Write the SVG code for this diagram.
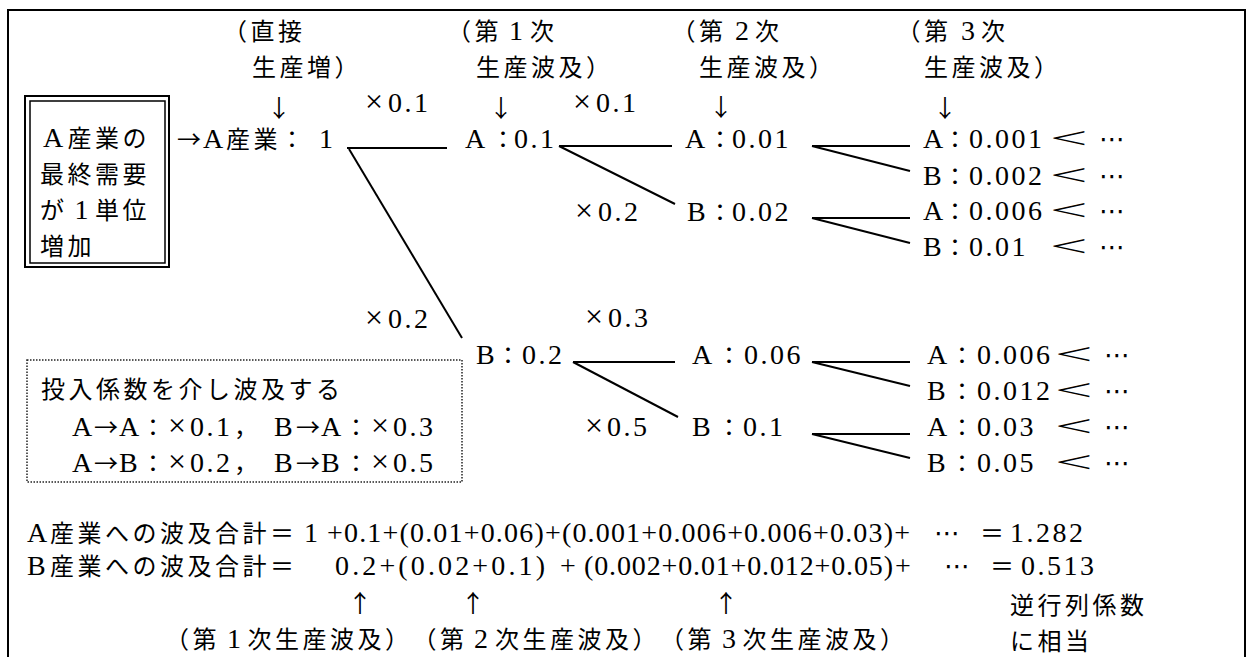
<svg xmlns="http://www.w3.org/2000/svg" width="1247" height="657" viewBox="0 0 1247 657">
  <style>
    text { font-family: "Liberation Serif", "Noto Sans CJK JP", serif; font-size: 28px; fill: #000; }
    .c { font-family: "Noto Sans CJK JP", "Liberation Serif", sans-serif; font-size: 24px; letter-spacing: 3.5px; }
    .k { letter-spacing: 0; }
    .n { letter-spacing: 2.5px; }
    .x { font-size: 32px; }
    .ar { font-family: "Noto Sans CJK JP", sans-serif; font-size: 24px; text-anchor: middle; }
    .dt { font-family: "DejaVu Sans", "Noto Sans CJK JP", sans-serif; font-size: 26px; }
    .lt { font-size: 29px; }
    .edge { stroke: #000; stroke-width: 2; fill: none; }
    .frame { stroke: #000; stroke-width: 2; fill: none; }
    .dotbox { stroke: #222; stroke-width: 1.5; stroke-dasharray: 1.5 1.5; fill: none; }
  </style>

  <!-- outer frame, open at the bottom -->
  <path class="frame" d="M8,657 V10 H1245 V657"/>

  <!-- final demand box (double border) -->
  <g id="demand">
    <rect x="25" y="96" width="144" height="171" fill="none" stroke="#000" stroke-width="2"/>
    <rect x="30" y="101" width="135" height="162" fill="none" stroke="#000" stroke-width="1.5"/>
    <text y="147"><tspan x="43">A</tspan><tspan class="c" x="67.5">産業の</tspan></text>
    <text class="c" x="40" y="183">最終需要</text>
    <text y="219"><tspan class="c" x="40">が</tspan><tspan x="74.5">1</tspan><tspan class="c" x="95">単位</tspan></text>
    <text class="c" x="40" y="255">増加</text>
  </g>

  <!-- column headers -->
  <g id="hdr-direct">
    <text class="c" x="223" y="40">（直接</text>
    <text class="c" x="252" y="76">生産増）</text>
    <text class="ar" x="279" y="117">↓</text>
  </g>
  <g id="hdr-1st">
    <text y="40"><tspan class="c" x="447">（第</tspan><tspan x="509">1</tspan><tspan class="c" x="530">次</tspan></text>
    <text class="c" x="476" y="76">生産波及）</text>
    <text class="ar" x="501" y="117">↓</text>
  </g>
  <g id="hdr-2nd">
    <text y="40"><tspan class="c" x="671.5">（第</tspan><tspan x="735">2</tspan><tspan class="c" x="755">次</tspan></text>
    <text class="c" x="699" y="76">生産波及）</text>
    <text class="ar" x="721" y="116">↓</text>
  </g>
  <g id="hdr-3rd">
    <text y="40"><tspan class="c" x="896.5">（第</tspan><tspan x="961">3</tspan><tspan class="c" x="981">次</tspan></text>
    <text class="c" x="924" y="76">生産波及）</text>
    <text class="ar" x="945" y="117">↓</text>
  </g>

  <!-- coefficients on the branches -->
  <g id="coef-aa-1"><text y="112"><tspan class="x" x="365">×</tspan><tspan class="n" x="388">0.1</tspan></text></g>
  <g id="coef-aa-2"><text y="112"><tspan class="x" x="573">×</tspan><tspan class="n" x="596">0.1</tspan></text></g>
  <g id="coef-ab-2"><text y="221"><tspan class="x" x="575">×</tspan><tspan class="n" x="598">0.2</tspan></text></g>
  <g id="coef-ab-1"><text y="328"><tspan class="x" x="365">×</tspan><tspan class="n" x="388">0.2</tspan></text></g>
  <g id="coef-ba-2"><text y="327"><tspan class="x" x="585">×</tspan><tspan class="n" x="608">0.3</tspan></text></g>
  <g id="coef-bb-2"><text y="436"><tspan class="x" x="585">×</tspan><tspan class="n" x="607">0.5</tspan></text></g>

  <!-- direct and first/second round nodes -->
  <g id="node-a0"><text y="148"><tspan class="c k" x="177">→</tspan><tspan x="203">A</tspan><tspan class="c" x="226">産業</tspan><tspan class="c k" x="280">：</tspan><tspan x="319">1</tspan></text></g>
  <g id="node-a1"><text y="148"><tspan x="465">A</tspan><tspan class="c k" x="491">：</tspan><tspan class="n" x="514">0.1</tspan></text></g>
  <g id="node-b1"><text y="364"><tspan x="476">B</tspan><tspan class="c k" x="496">：</tspan><tspan class="n" x="522">0.2</tspan></text></g>
  <g id="node-a2-a"><text y="148"><tspan x="685">A</tspan><tspan class="c k" x="708">：</tspan><tspan class="n" x="732">0.01</tspan></text></g>
  <g id="node-a2-b"><text y="221"><tspan x="687">B</tspan><tspan class="c k" x="708">：</tspan><tspan class="n" x="732">0.02</tspan></text></g>
  <g id="node-b2-a"><text y="364"><tspan x="692">A</tspan><tspan class="c k" x="717">：</tspan><tspan class="n" x="744">0.06</tspan></text></g>
  <g id="node-b2-b"><text y="436"><tspan x="692">B</tspan><tspan class="c k" x="717">：</tspan><tspan class="n" x="743">0.1</tspan></text></g>

  <!-- third round nodes -->
  <g id="node-3-1">
    <text y="148"><tspan x="923">A</tspan><tspan class="c k" x="943">：</tspan><tspan class="n" x="969">0.001</tspan><tspan class="dt" x="1099">⋯</tspan></text>
    <text class="lt" transform="translate(1050,148) scale(2.3,1)">&lt;</text>
  </g>
  <g id="node-3-2">
    <text y="185"><tspan x="923">B</tspan><tspan class="c k" x="943">：</tspan><tspan class="n" x="969">0.002</tspan><tspan class="dt" x="1099">⋯</tspan></text>
    <text class="lt" transform="translate(1050,185) scale(2.3,1)">&lt;</text>
  </g>
  <g id="node-3-3">
    <text y="220"><tspan x="923">A</tspan><tspan class="c k" x="943">：</tspan><tspan class="n" x="969">0.006</tspan><tspan class="dt" x="1099">⋯</tspan></text>
    <text class="lt" transform="translate(1050,220) scale(2.3,1)">&lt;</text>
  </g>
  <g id="node-3-4">
    <text y="256"><tspan x="923">B</tspan><tspan class="c k" x="943">：</tspan><tspan class="n" x="969">0.01</tspan><tspan class="dt" x="1099">⋯</tspan></text>
    <text class="lt" transform="translate(1050,256) scale(2.3,1)">&lt;</text>
  </g>
  <g id="node-3-5">
    <text y="364"><tspan x="927">A</tspan><tspan class="c k" x="950">：</tspan><tspan class="n" x="977">0.006</tspan><tspan class="dt" x="1104">⋯</tspan></text>
    <text class="lt" transform="translate(1055,364) scale(2.3,1)">&lt;</text>
  </g>
  <g id="node-3-6">
    <text y="400"><tspan x="927">B</tspan><tspan class="c k" x="950">：</tspan><tspan class="n" x="977">0.012</tspan><tspan class="dt" x="1104">⋯</tspan></text>
    <text class="lt" transform="translate(1055,400) scale(2.3,1)">&lt;</text>
  </g>
  <g id="node-3-7">
    <text y="436"><tspan x="927">A</tspan><tspan class="c k" x="950">：</tspan><tspan class="n" x="977">0.03</tspan><tspan class="dt" x="1104">⋯</tspan></text>
    <text class="lt" transform="translate(1055,436) scale(2.3,1)">&lt;</text>
  </g>
  <g id="node-3-8">
    <text y="472"><tspan x="927">B</tspan><tspan class="c k" x="950">：</tspan><tspan class="n" x="977">0.05</tspan><tspan class="dt" x="1104">⋯</tspan></text>
    <text class="lt" transform="translate(1055,472) scale(2.3,1)">&lt;</text>
  </g>

  <!-- branches -->
  <g id="connectors" class="edge">
    <line x1="347" y1="148" x2="447" y2="148"/>
    <line x1="349" y1="149" x2="462" y2="338"/>
    <line x1="559" y1="146" x2="672" y2="146"/>
    <line x1="559" y1="146" x2="675" y2="204"/>
    <line x1="812" y1="146" x2="910" y2="146"/>
    <line x1="812" y1="146" x2="910" y2="171"/>
    <line x1="812" y1="218" x2="910" y2="218"/>
    <line x1="812" y1="218" x2="910" y2="243"/>
    <line x1="573" y1="362" x2="675" y2="362"/>
    <line x1="573" y1="362" x2="678" y2="417"/>
    <line x1="812" y1="362" x2="910" y2="362"/>
    <line x1="812" y1="362" x2="910" y2="386"/>
    <line x1="812" y1="434" x2="910" y2="434"/>
    <line x1="812" y1="434" x2="910" y2="458"/>
  </g>

  <!-- input coefficient legend -->
  <g id="legend">
    <rect class="dotbox" x="27" y="360" width="435" height="122"/>
    <text class="c" x="41" y="398">投入係数を介し波及する</text>
    <text y="436"><tspan x="72">A</tspan><tspan class="c k" x="94">→</tspan><tspan x="119">A</tspan><tspan class="c k" x="141">：</tspan><tspan class="x" x="168">×</tspan><tspan class="n" x="190">0.1</tspan><tspan class="c k" x="234">，</tspan><tspan x="274">B</tspan><tspan class="c k" x="296">→</tspan><tspan x="321">A</tspan><tspan class="c k" x="344">：</tspan><tspan class="x" x="371">×</tspan><tspan class="n" x="393">0.3</tspan></text>
    <text y="472"><tspan x="72">A</tspan><tspan class="c k" x="94">→</tspan><tspan x="119">B</tspan><tspan class="c k" x="141">：</tspan><tspan class="x" x="168">×</tspan><tspan class="n" x="190">0.2</tspan><tspan class="c k" x="234">，</tspan><tspan x="274">B</tspan><tspan class="c k" x="296">→</tspan><tspan x="321">B</tspan><tspan class="c k" x="344">：</tspan><tspan class="x" x="371">×</tspan><tspan class="n" x="393">0.5</tspan></text>
  </g>

  <!-- totals -->
  <g id="total-a">
    <text y="542"><tspan x="27">A</tspan><tspan class="c" x="50">産業への波及合計＝</tspan><tspan x="304">1</tspan><tspan x="327" textLength="583">+0.1+(0.01+0.06)+(0.001+0.006+0.006+0.03)+</tspan><tspan class="dt" x="934">⋯</tspan><tspan class="c k" x="980">＝</tspan><tspan class="n" x="1010">1.282</tspan></text>
  </g>
  <g id="total-b">
    <text y="575"><tspan x="27">B</tspan><tspan class="c" x="50">産業への波及合計＝</tspan><tspan x="335" textLength="210">0.2+(0.02+0.1)</tspan><tspan x="560">+</tspan><tspan x="584" textLength="309">(0.002+0.01+0.012+0.05)</tspan><tspan x="895">+</tspan><tspan class="dt" x="944">⋯</tspan><tspan class="c k" x="990">＝</tspan><tspan class="n" x="1021">0.513</tspan></text>
  </g>

  <!-- round markers under the totals -->
  <g id="mark-1st">
    <text class="ar" x="360" y="612">↑</text>
    <text y="648"><tspan class="c" x="165">（第</tspan><tspan x="227">1</tspan><tspan class="c" x="247.5">次生産波及）</tspan></text>
  </g>
  <g id="mark-2nd">
    <text class="ar" x="473" y="612">↑</text>
    <text y="648"><tspan class="c" x="412.5">（第</tspan><tspan x="474">2</tspan><tspan class="c" x="495">次生産波及）</tspan></text>
  </g>
  <g id="mark-3rd">
    <text class="ar" x="726" y="612">↑</text>
    <text y="648"><tspan class="c" x="660">（第</tspan><tspan x="722">3</tspan><tspan class="c" x="742.5">次生産波及）</tspan></text>
  </g>
  <g id="note-inverse">
    <text class="c" x="1010" y="614">逆行列係数</text>
    <text class="c" x="1010" y="650">に相当</text>
  </g>
</svg>
